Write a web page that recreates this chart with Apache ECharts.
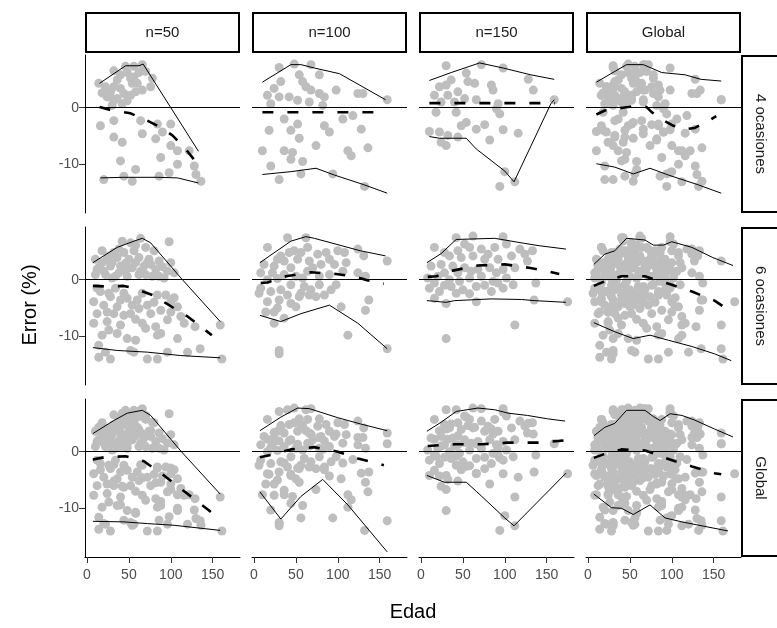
<!DOCTYPE html>
<html><head><meta charset="utf-8">
<script src="https://cdn.jsdelivr.net/npm/echarts@6/dist/echarts.min.js"></script>
<style>html,body{margin:0;padding:0;background:#fff}#c{width:777px;height:628px}</style>
</head><body><div id="c"></div>
<script>
const colLabels = ['n=50', 'n=100', 'n=150', 'Global'];
const rowLabels = ['4 ocasiones', '6 ocasiones', 'Global'];
const xTicks = [0, 50, 100, 150];
const yTicks = [-10, 0];
const xRange = [-2.4, 182.6];
const yRange = [-18.6, 9.3];

// Points (Edad, Error %) for base panels
const p4_50 = [[32,6.5],[46,7.3],[56,7.3],[66,7.6],[56,5.4],[54,4.3],[14,4.3],[22,3.7],[28,2.8],[24,1.9],[32,1.3],[42,0.7],[58,2.8],[66,3.1],[78,5.2],[76,3.7],[52,2.2],[30,0.4],[16,-3.2],[32,-2.3],[64,-2.3],[84,-2.9],[100,-2.9],[32,-5.2],[42,-6.1],[66,-4.6],[82,-5.5],[90,-4.3],[100,-6.7],[108,-7.6],[122,-7.6],[40,-9.4],[88,-8.8],[108,-10],[58,-10.9],[44,-12.1],[54,-13],[20,-12.7],[86,-12.1],[98,-11.5],[130,-11.8],[136,-13],[128,-10.3],[52,5.2],[60,4.3],[36,4.9],[32,3.7],[44,2.5],[28,1.9],[40,5.8],[48,6.2],[62,6.2],[40,3.4],[24,3],[36,1.6],[48,1.2],[70,6.4],[18,2.6]];
const p4_100 = [[30,7.1],[48,7.7],[68,7.6],[32,4.6],[54,5.8],[58,4.6],[62,3.7],[78,5.8],[24,3.4],[16,2.2],[30,1.9],[42,1.9],[20,0.7],[52,1.3],[66,1],[78,2.5],[84,1.9],[98,3.1],[82,0.4],[124,2.5],[130,2.5],[159,1.4],[36,-2],[52,-2.9],[44,-4],[18,-4],[54,-5.4],[84,-3.2],[90,-4.3],[106,-2],[118,-1.4],[128,-3.8],[10,-7.6],[36,-7.6],[46,-7.9],[44,-9.1],[74,-6.7],[112,-7.6],[116,-8.5],[136,-7.1],[58,-9.5],[20,-10.3],[30,-12.7],[56,-11.7],[94,-11.7],[132,-13.9],[68,3.1]];
const p4_150 = [[30,7.4],[72,7.6],[98,7],[54,6.1],[56,4.6],[36,4.9],[22,3.7],[30,4],[64,4.3],[84,4],[86,3.1],[16,2.2],[32,2.2],[44,2.8],[52,1.6],[66,1.4],[24,1],[40,1],[92,0.7],[128,5],[134,3.1],[159,1.4],[18,-0.8],[42,-0.8],[90,-0.2],[94,-1.1],[10,-4.2],[22,-4.3],[32,-4.9],[30,-6.7],[48,-3.2],[54,-2.6],[66,-3.8],[76,-3],[44,-5.2],[82,-5.7],[98,-3.9],[116,-4.5],[100,-11.3],[94,-13.9],[112,-13.1],[24,-6.1]];
const p6_50 = [[18,5.1],[42,6.8],[52,6.5],[64,7.3],[98,6.7],[32,4.8],[44,4.8],[56,5.1],[70,5.7],[80,5.1],[10,3.6],[24,3.6],[36,3.9],[50,3.6],[62,3.9],[74,3.6],[86,3.3],[14,2.1],[28,2.4],[40,2.4],[54,2.1],[68,2.4],[82,1.8],[96,1.5],[10,0.9],[22,0.9],[34,0.6],[48,0.6],[62,0.9],[78,0.6],[92,0.3],[104,1.2],[100,3],[8,-3.9],[16,-2.1],[26,-2.4],[34,-1.5],[40,-3.6],[48,-3.3],[60,-3.6],[66,-2.4],[72,-4.5],[84,-2.7],[94,-2.7],[100,-3.9],[108,-4.8],[12,-6],[24,-5.7],[32,-6],[44,-6.3],[52,-6],[62,-5.1],[76,-6],[88,-5.4],[100,-5.7],[112,-6.5],[8,-7.7],[24,-7.4],[40,-8],[66,-7.7],[82,-8.3],[88,-9.5],[96,-7.1],[116,-7.7],[129,-8.3],[159,-8],[26,-8.9],[48,-10.4],[58,-10.7],[84,-9.8],[108,-10.4],[14,-11.6],[22,-12.8],[28,-14],[14,-13.7],[52,-12.5],[56,-12.8],[72,-14],[84,-14],[96,-12.8],[120,-12.8],[135,-12.2],[161,-14],[12,1.8],[18,3],[20,1.5],[26,4.2],[30,3],[30,0.3],[38,5.4],[38,1.2],[46,2.9],[46,1.5],[58,3],[58,6.1],[64,1.5],[70,0.9],[72,3],[86,0.6],[90,2.3],[76,2.7],[12,-1.5],[20,-4.5],[28,-3],[36,-4.8],[44,-2.4],[54,-4.5],[58,-7],[70,-8.6],[36,-9.5],[18,-9.8],[104,-3.2],[80,-4]];
const p6_100 = [[16,5.7],[40,7.4],[62,7.4],[100,5.1],[32,4.2],[48,5.1],[64,5.7],[76,4.5],[86,4.8],[108,4.8],[124,5.4],[131,4.2],[159,3.3],[12,2.7],[24,2.4],[36,3.3],[52,3.6],[66,3.3],[80,2.7],[96,2.7],[110,3],[8,1.2],[22,1.2],[36,0.9],[50,0.6],[64,1.5],[78,0.6],[90,0.9],[106,1.5],[124,1.2],[133,0.6],[8,-1.5],[20,-2.1],[32,-1.8],[44,-0.9],[56,-2.4],[68,-1.8],[78,-0.9],[92,-1.8],[98,-0.9],[16,-3.9],[30,-3.6],[44,-4.2],[54,-3],[66,-2.7],[84,-2.7],[104,-4.8],[137,-3.6],[133,-5.4],[14,-5.7],[24,-5.7],[36,-6.8],[24,-7.7],[112,-9.8],[30,-12.5],[30,-13.1],[159,-12.2],[6,-2.4],[28,3.6],[42,4.8],[56,4.8],[70,2.1],[90,3.6],[44,2.1],[58,0.3],[16,0],[28,0.2],[40,-2.7],[60,-1.2],[74,-3],[28,-5],[50,-4.8]];
const p6_150 = [[16,5.7],[42,7.4],[62,7.7],[98,7.6],[52,6.3],[72,5.4],[88,5.7],[102,6.3],[124,4.5],[133,5.1],[34,4.2],[48,3.9],[62,4.2],[76,3.6],[92,3.6],[108,4.2],[127,3.3],[12,2.4],[24,2.7],[38,2.4],[52,2.1],[68,1.8],[82,2.1],[98,1.8],[112,2.1],[8,0.3],[20,0.6],[34,0],[46,-0.3],[58,0.3],[72,0.6],[86,-0.3],[102,0.3],[137,-0.6],[10,-1.5],[22,-2.1],[36,-1.2],[50,-1.8],[66,-1.2],[84,-2.1],[98,-1.5],[16,-3.3],[30,-4.2],[66,-3.9],[135,-3.6],[175,-3.9],[112,-8],[30,-10.4],[44,5.1],[28,4.8],[58,5.7],[80,4.5],[118,5.4],[28,1.2],[44,1.2],[60,1.5],[90,1.2],[16,-0.6],[28,-1],[42,-2.4],[58,-2.5],[76,-1],[92,-0.6],[110,-0.9]];

// Upper envelope, median (dashed) and lower envelope per panel
const u4_50 = [[15,4.3],[46,7.4],[62,7.4],[67,7.7],[133,-7.7]];
const m4_50 = [[15,0.1],[28,-0.4],[52,-1],[72,-2.3],[88,-3.5],[102,-4.9],[116,-7],[129,-9.4],[135,-11.2]];
const l4_50 = [[16,-12.4],[44,-12.3],[84,-12.3],[108,-12.4],[133,-13.3]];
const u4_100 = [[10,4.5],[44,7.6],[56,7.6],[72,7],[102,6],[157,1.4]];
const m4_100 = [[10,-0.8],[155,-0.8]];
const l4_100 = [[10,-11.8],[44,-11.3],[74,-10.7],[96,-11.9],[131,-13.6],[159,-15.1]];
const u4_150 = [[10,4.8],[36,6.2],[70,7.9],[98,7],[131,5.8],[159,5]];
const m4_150 = [[10,0.8],[160,0.8]];
const l4_150 = [[10,-5.1],[22,-5.4],[54,-5.4],[66,-7.3],[100,-11.2],[111,-13.1],[155,0.7],[159,1.4]];
const u4_g = [[10,4.5],[32,6.4],[46,7.6],[66,7.6],[88,6.2],[116,5.8],[135,5],[159,4.7]];
const m4_g = [[10,-1.2],[20,-0.5],[42,0],[52,0.2],[70,0.1],[76,-0.8],[92,-2.4],[102,-3.2],[116,-3.8],[127,-3.6],[143,-2.4],[153,-1.5]];
const l4_g = [[10,-9.9],[32,-10.5],[54,-11.7],[74,-10.7],[96,-11.9],[131,-13.6],[159,-15.1]];

const u6_50 = [[7,3],[36,5.7],[56,6.8],[66,7.3],[76,6.5],[112,0.3],[159,-7.4]];
const m6_50 = [[7,-1.1],[22,-1.2],[44,-1.1],[56,-1.5],[78,-2.7],[98,-4.5],[120,-6.5],[149,-9.8]];
const l6_50 = [[7,-12],[36,-12.5],[72,-12.8],[112,-13.4],[159,-13.8]];
const u6_100 = [[7,3],[44,6.8],[62,7.6],[72,7.3],[127,5.1],[157,4.2]];
const m6_100 = [[8,-0.6],[16,-0.5],[38,0.6],[68,1.3],[98,1],[122,0.5],[135,-0.1],[155,-0.7]];
const l6_100 = [[7,-6.3],[32,-7.4],[56,-6],[90,-4.5],[124,-7.7],[159,-12.2]];
const u6_150 = [[7,3],[24,4.6],[42,7.1],[88,7.3],[124,6.4],[141,6],[173,5.4]];
const m6_150 = [[8,0.5],[18,0.6],[38,1.6],[68,2.5],[100,2.7],[129,2.1],[151,1.5],[165,1]];
const l6_150 = [[7,-3.7],[30,-4],[40,-3.7],[84,-3.4],[120,-3.5],[135,-3.7],[173,-4]];
const u6_g = [[7,2.7],[20,4.5],[32,5.1],[46,7.3],[68,7],[78,6.1],[90,6.1],[100,6.7],[124,5.7],[149,3.9],[173,2.5]];
const m6_g = [[7,-1.1],[20,-0.3],[40,0.6],[68,0.6],[78,0.1],[100,-0.9],[124,-2.1],[151,-3.7],[169,-5.5]];
const l6_g = [[7,-7.6],[32,-9.2],[54,-10.4],[74,-9.8],[96,-10.7],[124,-11.8],[151,-13.1],[171,-14.3]];

const uG_50 = [[7,3.2],[32,5.5],[48,6.8],[66,7.3],[76,6.4],[112,0.1],[159,-7.5]];
const mG_50 = [[7,-1.4],[20,-1],[46,-0.8],[68,-1.7],[90,-4],[116,-7],[145,-10.3],[159,-12.1]];
const lG_50 = [[7,-12.3],[44,-12.4],[72,-12.7],[104,-13],[159,-13.9]];
const uG_100 = [[7,3.7],[32,6.1],[52,7.7],[66,7.6],[100,6],[127,4.9],[159,3.7]];
const mG_100 = [[7,-1],[20,-0.6],[44,0.4],[72,0.8],[100,0],[124,-1.2],[155,-2.4]];
const lG_100 = [[7,-7.1],[32,-11.9],[56,-7.9],[82,-4.9],[112,-9.4],[159,-17.7]];
const uG_150 = [[7,3.6],[24,5.2],[42,7.1],[68,7.7],[88,7.4],[104,6.8],[127,6.4],[151,5.8],[172,5.4]];
const mG_150 = [[8,1],[40,1.3],[72,1.3],[104,1.6],[139,1.6],[165,1.9],[173,2]];
const lG_150 = [[7,-4.2],[28,-5.4],[54,-5.4],[66,-7],[100,-11.7],[111,-13.1],[173,-3.8]];
const uG_g = [[7,2.8],[20,4.3],[32,5],[46,7.3],[68,7.3],[78,6.2],[86,5.5],[98,6.7],[112,6.4],[127,5.6],[151,4],[173,2.6]];
const mG_g = [[7,-1.1],[20,-0.4],[40,0.4],[68,0.2],[76,-0.2],[92,-1.1],[104,-1.7],[124,-2.6],[151,-3.8],[159,-4]];
const lG_g = [[7,-7.5],[28,-9.9],[40,-10],[54,-11.1],[74,-9.4],[92,-11.7],[112,-12.4],[143,-13.3],[167,-14]];

// Global facets pool the base panels
const points = [
  [p4_50, p4_100, p4_150, p4_50.concat(p4_100, p4_150)],
  [p6_50, p6_100, p6_150, p6_50.concat(p6_100, p6_150)],
  [p4_50.concat(p6_50), p4_100.concat(p6_100), p4_150.concat(p6_150),
   p4_50.concat(p4_100, p4_150, p6_50, p6_100, p6_150)]
];
const uppers = [[u4_50,u4_100,u4_150,u4_g],[u6_50,u6_100,u6_150,u6_g],[uG_50,uG_100,uG_150,uG_g]];
const medians = [[m4_50,m4_100,m4_150,m4_g],[m6_50,m6_100,m6_150,m6_g],[mG_50,mG_100,mG_150,mG_g]];
const lowers = [[l4_50,l4_100,l4_150,l4_g],[l6_50,l6_100,l6_150,l6_g],[lG_50,lG_100,lG_150,lG_g]];

const FONT = 'Liberation Sans, Arial, sans-serif';
const L0 = 85, T0 = 55, PW = 155, PH = 158, DX = 167, DY = 172;

const grids = [], xAxes = [], yAxes = [], series = [], graphics = [];
for (let r = 0; r < 3; r++) {
  for (let c = 0; c < 4; c++) {
    const i = r * 4 + c;
    grids.push({left: L0 + c * DX, top: T0 + r * DY, width: PW, height: PH, containLabel: false, outerBoundsMode: 'none'});
    xAxes.push({
      gridIndex: i, type: 'value', min: xRange[0], max: xRange[1],
      splitLine: {show: false},
      axisLine: {show: r === 2, onZero: false, lineStyle: {color: '#000', width: 1}},
      axisTick: {show: r === 2, customValues: xTicks, length: 6, lineStyle: {color: '#333', width: 1}},
      axisLabel: {show: r === 2, customValues: xTicks, color: '#4d4d4d', fontSize: 14, fontFamily: FONT, margin: 11}
    });
    yAxes.push({
      gridIndex: i, type: 'value', min: yRange[0], max: yRange[1],
      splitLine: {show: false},
      axisLine: {show: c === 0, onZero: false, lineStyle: {color: '#000', width: 1}},
      axisTick: {show: c === 0, customValues: yTicks, length: 6, lineStyle: {color: '#333', width: 1}},
      axisLabel: {show: c === 0, customValues: yTicks, color: '#4d4d4d', fontSize: 14, fontFamily: FONT, margin: 6}
    });
    series.push({
      type: 'scatter', xAxisIndex: i, yAxisIndex: i, data: points[r][c],
      symbolSize: 9, itemStyle: {color: '#bebebe', opacity: 1}, z: 2, silent: true,
      markLine: {silent: true, symbol: 'none', label: {show: false}, animation: false,
        lineStyle: {color: '#000', width: 1, type: 'solid'}, data: [{yAxis: 0}]}
    });
    series.push({type: 'line', xAxisIndex: i, yAxisIndex: i, data: uppers[r][c], symbol: 'none', z: 3,
      lineStyle: {color: '#000', width: 1}});
    series.push({type: 'line', xAxisIndex: i, yAxisIndex: i, data: lowers[r][c], symbol: 'none', z: 3,
      lineStyle: {color: '#000', width: 1}});
    series.push({type: 'line', xAxisIndex: i, yAxisIndex: i, data: medians[r][c], symbol: 'none', z: 4,
      lineStyle: {color: '#000', width: 2.6, type: [11, 14], cap: 'butt'}});
  }
}
// top strips
for (let c = 0; c < 4; c++) {
  graphics.push({type: 'rect', shape: {x: L0 + c * DX + 1, y: 13, width: PW - 2, height: 39},
    style: {fill: '#fff', stroke: '#000', lineWidth: 2}});
  graphics.push({type: 'text', x: L0 + c * DX + PW / 2, y: 33,
    style: {text: colLabels[c], fill: '#1a1a1a', font: '15px ' + FONT, align: 'center', verticalAlign: 'middle'}});
}
// right strips
for (let r = 0; r < 3; r++) {
  graphics.push({type: 'rect', shape: {x: 742, y: T0 + r * DY + 1, width: 40, height: PH - 2},
    style: {fill: '#fff', stroke: '#000', lineWidth: 2}});
  graphics.push({type: 'text', x: 760, y: T0 + r * DY + PH / 2, rotation: -Math.PI / 2,
    style: {text: rowLabels[r], fill: '#1a1a1a', font: '15px ' + FONT, align: 'center', verticalAlign: 'middle'}});
}
graphics.push({type: 'text', x: 30, y: 305, rotation: Math.PI / 2,
  style: {text: 'Error (%)', fill: '#000', font: '20px ' + FONT, align: 'center', verticalAlign: 'middle'}});
graphics.push({type: 'text', x: 413, y: 612,
  style: {text: 'Edad', fill: '#000', font: '20px ' + FONT, align: 'center', verticalAlign: 'middle'}});

const chart = echarts.init(document.getElementById('c'), null, {renderer: 'canvas'});
chart.setOption({
  animation: false,
  backgroundColor: '#fff',
  grid: grids, xAxis: xAxes, yAxis: yAxes, series: series, graphic: graphics
});
</script></body></html>
